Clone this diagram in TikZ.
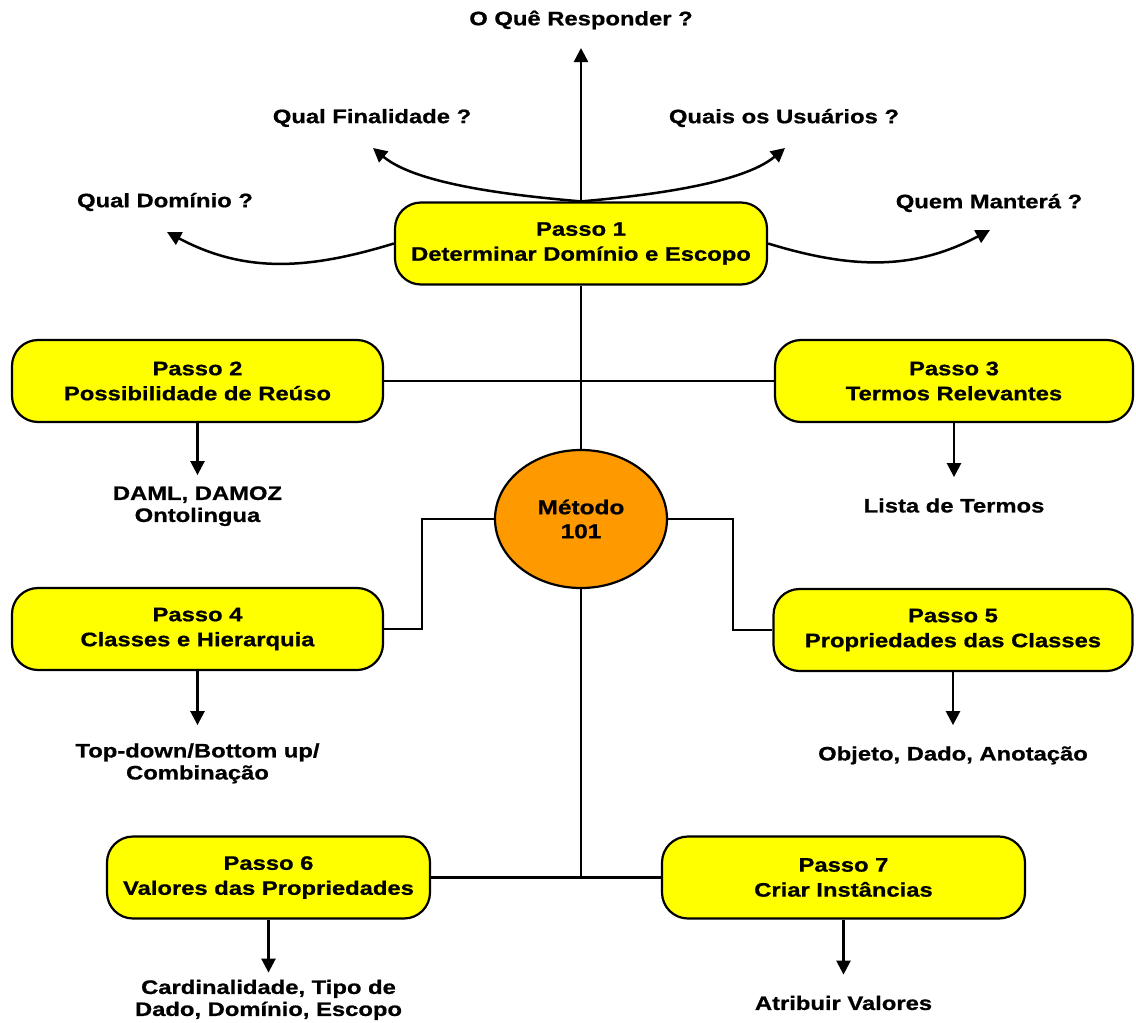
\documentclass[tikz,border=0pt]{standalone}
\usepackage{fontspec}
\setmainfont{Liberation Sans}[FakeStretch=1.22,FakeBold=0.8]
\usetikzlibrary{arrows.meta,positioning,shapes.geometric}
\usepackage{xcolor}
\definecolor{StepYellow}{RGB}{255,255,0}
\definecolor{MethodOrange}{RGB}{255,153,0}
\tikzset{
  passo/.style={draw=black, rounded corners=26pt, fill=StepYellow,
    line width=2.2pt, minimum height=82pt, align=center,
    font=\fontsize{19.5}{25}\selectfont\bfseries},
  metodo/.style={ellipse, draw=black, fill=MethodOrange, line width=2.2pt,
    minimum width=172pt, minimum height=138pt, inner sep=0pt, align=center,
    font=\fontsize{20}{24}\selectfont\bfseries},
  pergunta/.style={inner sep=0pt, align=center,
    font=\fontsize{19.5}{22}\selectfont\bfseries},
  resultado/.style={inner sep=0pt, align=center,
    font=\fontsize{19.5}{22}\selectfont\bfseries},
  conector/.style={line width=2.5pt, black},
  arrow/.style={-{Triangle[length=14pt,width=14pt]}, line width=2.5pt, black}
}

\begin{document}
\begin{tikzpicture}[x=1pt, y=1pt, node distance=10pt]
  \useasboundingbox (0,0) rectangle (1136,-1023);

  \node[passo, minimum width=372pt] (p1) at (581,-243.5) {Passo 1\\Determinar Domínio e Escopo};
  \node[passo, minimum width=371pt] (p2) at (197.5,-381) {Passo 2\\Possibilidade de Reúso};
  \node[passo, minimum width=358pt] (p3) at (954,-381) {Passo 3\\Termos Relevantes};
  \node[passo, minimum width=371pt] (p4) at (197.5,-629) {Passo 4\\Classes e Hierarquia};
  \node[passo, minimum width=359pt] (p5) at (953,-630) {Passo 5\\Propriedades das Classes};
  \node[passo, minimum width=323pt] (p6) at (268.5,-877.5) {Passo 6\\Valores das Propriedades};
  \node[passo, minimum width=363pt] (p7) at (843.5,-877.5) {Passo 7\\Criar Instâncias};
  \node[metodo] (m101) at (581,-519) {Método\\101};

  \coordinate (t0) at (581,-48);
  \coordinate (t1) at (373,-148);
  \coordinate (t2) at (785,-148);
  \coordinate (t3) at (167,-232);
  \coordinate (t4) at (990,-230);
  \node[pergunta] (q0) at (581,-20) {O Quê Responder ?};
  \node[pergunta] (q1) at (372,-118) {Qual Finalidade ?};
  \node[pergunta] (q2) at (784,-118) {Quais os Usuários ?};
  \node[pergunta] (q3) at (165,-202) {Qual Domínio ?};
  \node[pergunta] (q4) at (989,-203) {Quem Manterá ?};

  \coordinate[below=52pt of p2] (d2);
  \coordinate[below=54pt of p3] (d3);
  \coordinate[below=54pt of p4] (d4);
  \coordinate[below=53pt of p5] (d5);
  \coordinate[below=53pt of p6] (d6);
  \coordinate[below=55pt of p7] (d7);
  \node[resultado, below=11pt of d2] (r2) {DAML, DAMOZ\\Ontolingua};
  \node[resultado, below=21pt of d3] (r3) {Lista de Termos};
  \node[resultado, below=18pt of d4] (r4) {Top-down/Bottom up/\\Combinação};
  \node[resultado, below=21pt of d5] (r5) {Objeto, Dado, Anotação};
  \node[resultado, below=7pt of d6] (r6) {Cardinalidade, Tipo de\\Dado, Domínio, Escopo};
  \node[resultado, below=21pt of d7] (r7) {Atribuir Valores};

  \draw[conector] (p1) -- (m101);
  \draw[conector] (p2) -- (p3);
  \draw[conector] (m101.west) -- ++(-72,0) |- (p4.east);
  \draw[conector] (m101.east) -- ++(65,0) |- (p5.west);
  \draw[conector] (m101.south) -- (m101.south |- p6.east);
  \draw[conector] (p6) -- (p7);

  \draw[arrow] (p1.north) -- (t0);
  \draw[arrow] (p1.north) to[out=175, in=-40, looseness=0.7] (t1);
  \draw[arrow] (p1.north) to[out=5, in=220, looseness=0.7] (t2);
  \draw[arrow] (p1.west) to[out=-163, in=-28] (t3);
  \draw[arrow] (p1.east) to[out=-17, in=208] (t4);

  \draw[arrow] (p2) -- (d2);
  \draw[arrow] (p3) -- (d3);
  \draw[arrow] (p4) -- (d4);
  \draw[arrow] (p5) -- (d5);
  \draw[arrow] (p6) -- (d6);
  \draw[arrow] (p7) -- (d7);
\end{tikzpicture}
\end{document}
